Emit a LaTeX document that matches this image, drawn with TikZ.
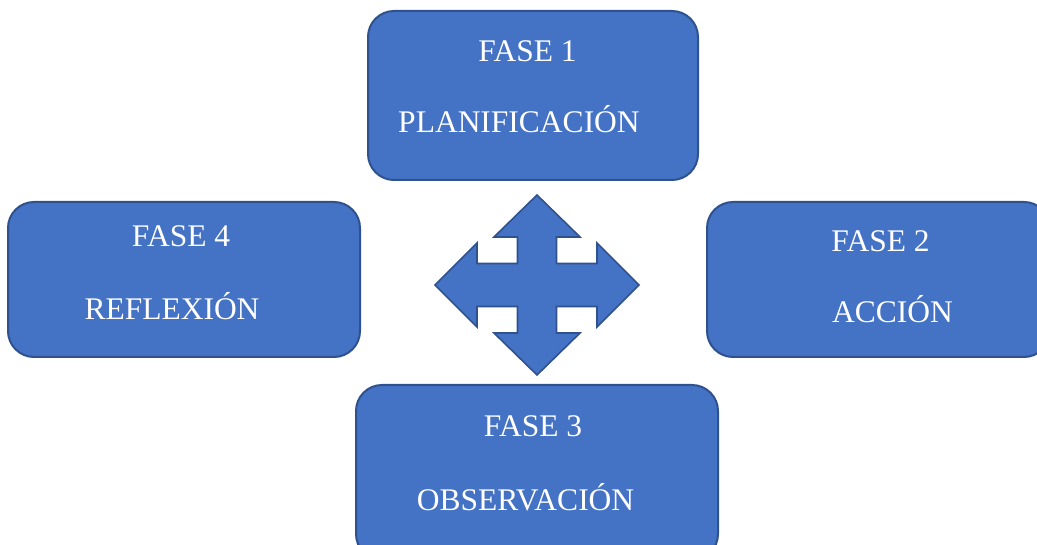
\documentclass[tikz,border=0pt]{standalone}
\usepackage{fontspec}
\setmainfont{Liberation Serif}
\definecolor{boxfill}{HTML}{4472C4}
\definecolor{boxline}{HTML}{2F528F}
\begin{document}
\begin{tikzpicture}[x=1pt,y=-1pt,
  box/.style={draw=boxline, fill=boxfill, line width=2pt, rounded corners=26pt, rectangle, inner sep=0pt},
  lbl/.style={text=white, anchor=base, inner sep=0pt, font=\fontsize{31.5}{36}\selectfont}]
\useasboundingbox (0,0) rectangle (1037,545);
\clip (0,0) rectangle (1037,545);
% boxes
\node[box, minimum width=330pt, minimum height=169pt] (top) at (533,95.5) {};
\node[box, minimum width=352pt, minimum height=155pt] (left) at (184,279.5) {};
\node[box, minimum width=343pt, minimum height=155pt] (right) at (878.5,279.5) {};
\node[box, minimum width=362pt, minimum height=175pt] (bottom) at (537,472.5) {};
% cross arrow
\draw[draw=boxline, fill=boxfill, line width=1.6pt, line join=miter]
  (537,195) -- (580,237) -- (556.5,237) -- (556.5,263.5) -- (597,263.5) -- (597,243)
  -- (639,285) -- (597,327) -- (597,306.5) -- (556.5,306.5) -- (556.5,333) -- (580,333)
  -- (537,375) -- (494,333) -- (517.5,333) -- (517.5,306.5) -- (477,306.5) -- (477,327)
  -- (435,285) -- (477,243) -- (477,263.5) -- (517.5,263.5) -- (517.5,237) -- (494,237) -- cycle;
% labels
\node[lbl] (t1) at (527.5,62) {FASE 1};
\node[lbl] (t2) at (519,133) {PLANIFICACIÓN};
\node[lbl] (l1) at (181,247) {FASE 4};
\node[lbl] (l2) at (172,320) {REFLEXIÓN};
\node[lbl] (r1) at (880.5,252) {FASE 2};
\node[lbl] (r2) at (892.5,323) {ACCIÓN};
\node[lbl] (b1) at (533,437) {FASE 3};
\node[lbl] (b2) at (525.5,510) {OBSERVACIÓN};
\end{tikzpicture}
\end{document}
